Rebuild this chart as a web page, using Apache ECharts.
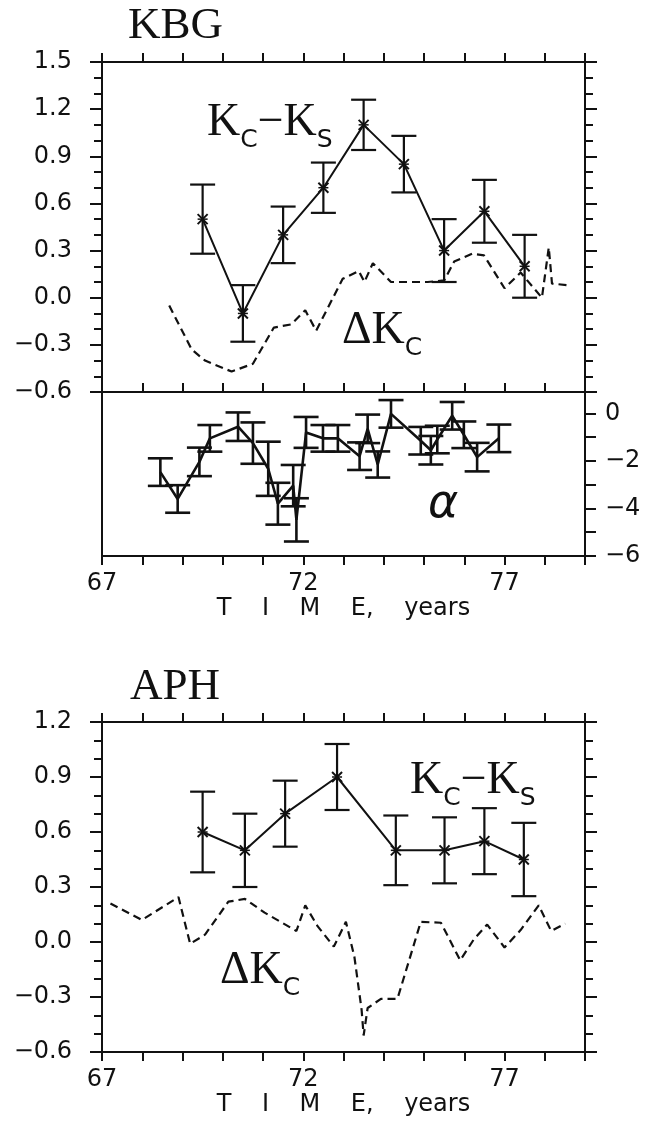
<!DOCTYPE html>
<html>
  <head>
    <meta charset="utf-8" />
    <title>KBG / APH</title>
    <script src="https://cdn.jsdelivr.net/npm/echarts@6/dist/echarts.min.js"></script>
    <style>
      * {
        padding: 0;
        margin: 0;
      }
      #chart-panel {
        width: 648px;
        height: 1121px;
        background: #fff;
      }
    </style>
  </head>
  <body>
    <div id="chart-panel"></div>
    <script type="text/javascript">
      // ---- KBG: Kc - Ks with error bars ----
      const kbgYears = [69.5, 70.5, 71.5, 72.5, 73.5, 74.5, 75.5, 76.5, 77.5];
      const kbgDiff = [0.5, -0.1, 0.4, 0.7, 1.1, 0.85, 0.3, 0.55, 0.2];
      const kbgDiffErr = [0.22, 0.18, 0.18, 0.16, 0.16, 0.18, 0.2, 0.2, 0.2];

      // ---- KBG: delta Kc (dashed) ----
      const kbgDkYears = [68.67, 69.23, 69.56, 70.22, 70.75, 71.27, 71.7, 72.05, 72.32, 72.98, 73.38, 73.52, 73.73, 74.18, 75.09, 75.5, 75.75, 76.2, 76.49, 77.0, 77.4, 77.93, 78.1, 78.18, 78.55];
      const kbgDk = [-0.05, -0.33, -0.4, -0.47, -0.42, -0.19, -0.17, -0.08, -0.21, 0.12, 0.17, 0.1, 0.22, 0.1, 0.1, 0.11, 0.23, 0.28, 0.27, 0.06, 0.16, 0.0, 0.32, 0.09, 0.08];

      // ---- KBG: alpha with error bars ----
      const alphaYears = [68.45, 68.88, 69.42, 69.68, 70.38, 70.75, 71.13, 71.37, 71.75, 71.83, 72.07, 72.49, 72.86, 73.4, 73.6, 73.85, 74.18, 74.92, 75.17, 75.33, 75.7, 75.99, 76.32, 76.86];
      const alpha = [-2.47, -3.6, -2.04, -1.05, -0.56, -1.25, -2.33, -3.8, -3.04, -4.48, -0.8, -1.05, -1.05, -1.8, -0.65, -2.15, -0.02, -1.15, -1.55, -1.1, -0.1, -0.9, -1.84, -1.05];
      const alphaErr = [0.58, 0.58, 0.6, 0.56, 0.6, 0.87, 1.14, 0.88, 0.87, 0.91, 0.65, 0.56, 0.56, 0.58, 0.6, 0.55, 0.58, 0.58, 0.6, 0.58, 0.58, 0.56, 0.6, 0.58];

      // ---- APH: Kc - Ks with error bars ----
      const aphYears = [69.5, 70.55, 71.55, 72.84, 74.3, 75.51, 76.5, 77.48];
      const aphDiff = [0.6, 0.5, 0.7, 0.9, 0.5, 0.5, 0.55, 0.45];
      const aphDiffErr = [0.22, 0.2, 0.18, 0.18, 0.19, 0.18, 0.18, 0.2];

      // ---- APH: delta Kc (dashed) ----
      const aphDkYears = [67.21, 67.99, 68.9, 69.19, 69.56, 70.14, 70.55, 71.04, 71.83, 72.05, 72.36, 72.76, 73.06, 73.27, 73.45, 73.5, 73.6, 73.93, 74.34, 74.92, 75.42, 75.9, 76.24, 76.57, 77.0, 77.4, 77.85, 78.16, 78.51];
      const aphDk = [0.21, 0.12, 0.245, -0.01, 0.04, 0.22, 0.235, 0.16, 0.06, 0.2, 0.085, -0.025, 0.11, -0.08, -0.37, -0.51, -0.36, -0.31, -0.31, 0.11, 0.105, -0.1, 0.015, 0.095, -0.03, 0.065, 0.2, 0.06, 0.1];

      const timeLabels = [67, 72, 77];

      var myChart = echarts.init(document.getElementById("chart-panel"));

      const serif = "'Liberation Serif', 'DejaVu Serif', serif";
      const sans = "'DejaVu Sans', sans-serif";
      const ink = "#111";

      function pairs(xs, ys, es) {
        return xs.map(function (x, i) {
          return es ? [x, ys[i], es[i]] : [x, ys[i]];
        });
      }

      // error bar (+ optional x marker) drawn through the axes
      function errorBar(withCross, lw) {
        return function (params, api) {
          var x = api.value(0), y = api.value(1), e = api.value(2);
          var hi = api.coord([x, y + e]);
          var lo = api.coord([x, y - e]);
          var c = api.coord([x, y]);
          var w = 12.5;
          var st = { stroke: ink, lineWidth: lw };
          var kids = [
            { type: "line", shape: { x1: hi[0], y1: hi[1], x2: lo[0], y2: lo[1] }, style: st },
            { type: "line", shape: { x1: hi[0] - w, y1: hi[1], x2: hi[0] + w, y2: hi[1] }, style: st },
            { type: "line", shape: { x1: lo[0] - w, y1: lo[1], x2: lo[0] + w, y2: lo[1] }, style: st },
          ];
          if (withCross) {
            var s = 5;
            kids.push(
              { type: "line", shape: { x1: c[0] - s, y1: c[1] - s, x2: c[0] + s, y2: c[1] + s }, style: { stroke: ink, lineWidth: 2 } },
              { type: "line", shape: { x1: c[0] - s, y1: c[1] + s, x2: c[0] + s, y2: c[1] - s }, style: { stroke: ink, lineWidth: 2 } },
              { type: "line", shape: { x1: c[0] - s, y1: c[1], x2: c[0] + s, y2: c[1] }, style: { stroke: ink, lineWidth: 1.5 } }
            );
          }
          return { type: "group", children: kids };
        };
      }

      const axisLine = { show: true, onZero: false, lineStyle: { color: ink, width: 2 } };
      const labelFont = { color: ink, fontFamily: sans, fontSize: 24 };

      function timeAxis(grid, opts) {
        return Object.assign(
          {
            type: "value",
            gridIndex: grid,
            min: 67,
            max: 79,
            interval: 1,
            axisLine: axisLine,
            axisTick: { show: true, length: 9, lineStyle: { color: ink, width: 2 } },
            axisLabel: { show: false },
            splitLine: { show: false },
          },
          opts
        );
      }

      function kAxis(grid, pos, min, max, showLabel) {
        return {
          type: "value",
          gridIndex: grid,
          position: pos,
          min: min,
          max: max,
          interval: 0.3,
          axisLine: axisLine,
          axisTick: { show: true, length: 12, lineStyle: { color: ink, width: 2 } },
          minorTick: { show: true, splitNumber: 3, length: 8, lineStyle: { color: ink, width: 2 } },
          axisLabel: Object.assign(
            {
              show: showLabel,
              margin: 30,
              formatter: function (v) {
                var t = Math.abs(v).toFixed(1);
                return v < -1e-9 ? "\u2212" + t : t;
              },
            },
            labelFont
          ),
          splitLine: { show: false },
          minorSplitLine: { show: false },
        };
      }

      const timeLabel = Object.assign(
        {
          show: true,
          margin: 16,
          formatter: function (v) {
            return timeLabels.indexOf(v) >= 0 ? String(v) : "";
          },
        },
        labelFont
      );
      const timeName = {
        name: "T    I    M    E,    years",
        nameLocation: "middle",
        nameGap: 40,
        nameTextStyle: { color: ink, fontFamily: sans, fontSize: 24 },
      };

      // K with sans subscripts, sub lowered below the serif baseline
      const labelRich = {
        k: { fontFamily: serif, fontSize: 46, fill: ink, verticalAlign: "bottom", padding: [0, 0, 7, 0] },
        s: { fontFamily: sans, fontSize: 25, fill: ink, verticalAlign: "bottom" },
      };
      function kcks(left, top) {
        return {
          type: "text",
          left: left,
          top: top,
          style: { text: "{k|K}{s|C}{k|−K}{s|S}", rich: labelRich },
        };
      }
      function dkc(left, top) {
        return {
          type: "text",
          left: left,
          top: top,
          style: { text: "{k|ΔK}{s|C}", rich: labelRich },
        };
      }

      var option = {
        backgroundColor: "#fff",
        animation: false,
        grid: [
          { left: 102, top: 62, width: 483, height: 330, outerBoundsMode: "none" },
          { left: 102, top: 392, width: 483, height: 164, outerBoundsMode: "none" },
          { left: 102, top: 722, width: 483, height: 330, outerBoundsMode: "none" },
        ],
        xAxis: [
          timeAxis(0, { position: "bottom", axisTick: { show: true, inside: true, length: 9, lineStyle: { color: ink, width: 2 } } }),
          timeAxis(0, { position: "top" }),
          timeAxis(1, Object.assign({ position: "bottom", axisLabel: timeLabel }, timeName)),
          timeAxis(2, Object.assign({ position: "bottom", axisLabel: timeLabel }, timeName)),
          timeAxis(2, { position: "top" }),
        ],
        yAxis: [
          kAxis(0, "left", -0.6, 1.5, true),
          kAxis(0, "right", -0.6, 1.5, false),
          {
            type: "value",
            gridIndex: 1,
            position: "right",
            min: -6,
            max: 0.9,
            interval: 1,
            axisLine: axisLine,
            axisTick: { show: true, length: 11, lineStyle: { color: ink, width: 2 } },
            axisLabel: Object.assign(
              {
                show: true,
                margin: 20,
                formatter: function (v) {
                  if (Math.abs(v - Math.round(v)) > 1e-6) return "";
                  var r = Math.round(v);
                  if (r % 2 !== 0) return "";
                  return r < 0 ? "\u2212" + -r : "0";
                },
              },
              labelFont
            ),
            splitLine: { show: false },
          },
          {
            type: "value",
            gridIndex: 1,
            position: "left",
            min: -6,
            max: 0.9,
            axisLine: axisLine,
            axisTick: { show: false },
            axisLabel: { show: false },
            splitLine: { show: false },
          },
          kAxis(2, "left", -0.6, 1.2, true),
          kAxis(2, "right", -0.6, 1.2, false),
        ],
        graphic: [
          { type: "text", left: 128, top: 4, style: { text: "KBG", fontFamily: serif, fontSize: 45, fill: ink } },
          { type: "text", left: 130, top: 665, style: { text: "APH", fontFamily: serif, fontSize: 45, fill: ink } },
          kcks(207, 100),
          dkc(342, 308),
          kcks(410, 758),
          dkc(220, 948),
          { type: "text", left: 428, top: 482, style: { text: "α", fontFamily: sans, fontSize: 46, fontStyle: "italic", fill: ink } },
        ],
        series: [
          {
            name: "KBG Kc-Ks",
            type: "line",
            xAxisIndex: 0,
            yAxisIndex: 0,
            data: pairs(kbgYears, kbgDiff),
            symbol: "none",
            lineStyle: { color: ink, width: 2 },
          },
          {
            type: "custom",
            xAxisIndex: 0,
            yAxisIndex: 0,
            data: pairs(kbgYears, kbgDiff, kbgDiffErr),
            renderItem: errorBar(true, 2.2),
          },
          {
            name: "KBG dKc",
            type: "line",
            xAxisIndex: 0,
            yAxisIndex: 0,
            data: pairs(kbgDkYears, kbgDk),
            symbol: "none",
            lineStyle: { color: ink, width: 2.2, type: [8, 5] },
          },
          {
            name: "alpha",
            type: "line",
            xAxisIndex: 2,
            yAxisIndex: 2,
            data: pairs(alphaYears, alpha),
            symbol: "none",
            lineStyle: { color: ink, width: 2.6 },
          },
          {
            type: "custom",
            xAxisIndex: 2,
            yAxisIndex: 2,
            data: pairs(alphaYears, alpha, alphaErr),
            renderItem: errorBar(false, 2.6),
          },
          {
            name: "APH Kc-Ks",
            type: "line",
            xAxisIndex: 3,
            yAxisIndex: 4,
            data: pairs(aphYears, aphDiff),
            symbol: "none",
            lineStyle: { color: ink, width: 2 },
          },
          {
            type: "custom",
            xAxisIndex: 3,
            yAxisIndex: 4,
            data: pairs(aphYears, aphDiff, aphDiffErr),
            renderItem: errorBar(true, 2.2),
          },
          {
            name: "APH dKc",
            type: "line",
            xAxisIndex: 3,
            yAxisIndex: 4,
            data: pairs(aphDkYears, aphDk),
            symbol: "none",
            lineStyle: { color: ink, width: 2.2, type: [8, 5] },
          },
        ],
      };

      myChart.setOption(option);
    </script>
  </body>
</html>
